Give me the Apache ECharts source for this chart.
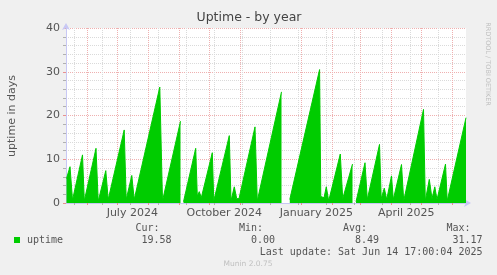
<!DOCTYPE html>
<html><head><meta charset="utf-8">
<script src="https://cdn.jsdelivr.net/npm/echarts@6/dist/echarts.min.js"></script>
<style>html,body{margin:0;padding:0;background:#f0f0f0}#c{width:497px;height:275px}</style>
</head><body><div id="c"></div>
<script>
// ---- data ----
const rangeStart = '2024-05-10 17:00';
const rangeEnd = '2025-06-14 17:00';
const times = [
 '2024-05-11 05:00','2024-05-14 17:00','2024-05-17 05:00','2024-05-27 05:00','2024-05-29 00:00',
 '2024-06-09 17:00','2024-06-11 22:00','2024-06-19 12:00','2024-06-21 22:00','2024-07-07 22:00',
 '2024-07-09 22:00','2024-07-15 12:00','2024-07-17 22:00','2024-08-12 12:00','2024-08-15 05:00',
 '2024-09-02 05:00','2024-09-03 17:00','2024-09-05 05:00','2024-09-17 10:00','2024-09-19 00:00',
 '2024-09-21 00:00','2024-09-23 00:00','2024-10-04 00:00','2024-10-05 12:00','2024-10-21 00:00',
 '2024-10-22 17:00','2024-10-26 00:00','2024-10-28 10:00','2024-10-30 17:00','2024-11-15 17:00',
 '2024-11-18 00:00','2024-12-12 05:00','2024-12-15 17:00','2024-12-20 12:00','2025-01-19 07:00',
 '2025-01-20 12:00','2025-01-23 17:00','2025-01-26 00:00','2025-01-28 10:00','2025-02-09 00:00',
 '2025-02-11 10:00','2025-02-21 05:00','2025-02-23 05:00','2025-02-24 17:00','2025-03-05 17:00',
 '2025-03-08 00:00','2025-03-20 05:00','2025-03-21 22:00','2025-03-25 00:00','2025-03-27 10:00',
 '2025-04-01 05:00','2025-04-03 00:00','2025-04-11 05:00','2025-04-13 10:00','2025-05-03 05:00',
 '2025-05-05 00:00','2025-05-09 00:00','2025-05-11 17:00','2025-05-14 12:00','2025-05-16 17:00',
 '2025-05-25 05:00','2025-05-26 22:00','2025-06-14 17:00'
];
const uptime = [
 5.6, 8.3, 0.7, 11.0, 0.5,
 12.5, 0.4, 7.4, 0.8, 16.7,
 0.8, 6.3, 0.8, 26.5, 0.5,
 18.7, null, 0.3, 12.5, 1.6,
 2.6, 1.2, 11.5, 0.5, 15.4,
 0.5, 3.7, 1.0, 1.0, 17.4,
 0.5, 25.4, null, 0.8, 30.5,
 1.5, 1.2, 3.7, 0.5, 11.2,
 1.0, 8.9, null, 0.3, 9.2,
 0.8, 13.4, 1.0, 3.4, 0.8,
 6.2, 0.8, 8.8, 0.5, 21.4,
 0.5, 5.4, 1.0, 3.7, 0.8,
 8.9, 0.5, 19.5
];
const monthStarts = ['2024-06-01','2024-07-01','2024-08-01','2024-09-01','2024-10-01','2024-11-01','2024-12-01',
 '2025-01-01','2025-02-01','2025-03-01','2025-04-01','2025-05-01','2025-06-01'];
const minorGridDates = ['2024-05-19','2024-06-16','2024-07-14','2024-08-11','2024-09-08','2024-10-06','2024-11-03',
 '2024-12-01','2024-12-29','2025-01-26','2025-02-23','2025-03-23','2025-04-20','2025-05-18'];
const xLabelDates = ['2024-07-16','2024-10-16','2025-01-16','2025-04-16'];
const xLabelTexts = ['July 2024','October 2024','January 2025','April 2025'];
const yTicks = [0, 10, 20, 30, 40];
const seriesName = 'uptime';
const statLabels = ['Cur:','Min:','Avg:','Max:'];
const statValues = ['19.58','0.00','8.49','31.17'];
const lastUpdate = 'Last update: Sat Jun 14 17:00:04 2025';

// ---- helpers ----
function ts(s){const [d,t='00:00']=s.split(' ');const [Y,M,D]=d.split('-').map(Number);const [h,m]=t.split(':').map(Number);return new Date(Y,M-1,D,h,m).getTime();}
const labelMap = {}; xLabelDates.forEach((d,i)=>{labelMap[ts(d)] = xLabelTexts[i];});
const data = times.map((t,i)=>[ts(t), uptime[i]===null ? '-' : uptime[i]]);

const GREEN = '#00cc00', AXIS = '#c8c8f4', MAJ = '#efb0b0', MIN = '#dadada', TXT = '#555';
const chart = echarts.init(document.getElementById('c'), null, {renderer:'canvas'});
const mono = 'DejaVu Sans Mono';
const graphics = [
 {type:'text', x:249, y:18, style:{text:'Uptime - by year', font:'12.5px "DejaVu Sans"', fill:'#444', textAlign:'center', textVerticalAlign:'middle'}},
 {type:'text', x:12, y:116, rotation:Math.PI/2, style:{text:'uptime in days', font:'11px "DejaVu Sans"', fill:TXT, textAlign:'center', textVerticalAlign:'middle'}},
 {type:'text', x:488, y:64, rotation:-Math.PI/2, style:{text:'RRDTOOL / TOBI OETIKER', font:'6.5px "DejaVu Sans"', fill:'#c0c0c0', textAlign:'center', textVerticalAlign:'middle'}},
 {type:'rect', shape:{x:14, y:237, width:6, height:6}, style:{fill:GREEN}},
 {type:'text', x:27, y:240, style:{text:seriesName, font:'10px "'+mono+'"', fill:TXT, textAlign:'left', textVerticalAlign:'middle'}},
 {type:'text', x:482.5, y:252, style:{text:lastUpdate, font:'10px "'+mono+'"', fill:TXT, textAlign:'right', textVerticalAlign:'middle'}},
 {type:'text', x:248, y:264, style:{text:'Munin 2.0.75', font:'7.5px "DejaVu Sans"', fill:'#c0c0c0', textAlign:'center', textVerticalAlign:'middle'}}
];
const statLabelX = [159.5, 263, 367, 470.5];
const statValueX = [171.5, 275, 379, 482.5];
statLabels.forEach((s,i)=>{
 graphics.push({type:'text', x:statLabelX[i], y:228, style:{text:s, font:'10px "'+mono+'"', fill:TXT, textAlign:'right', textVerticalAlign:'middle'}});
 graphics.push({type:'text', x:statValueX[i], y:240, style:{text:statValues[i], font:'10px "'+mono+'"', fill:TXT, textAlign:'right', textVerticalAlign:'middle'}});
});

chart.setOption({
 animation:false,
 backgroundColor:'#f0f0f0',
 grid:{left:66, top:28, width:400, height:175, show:true, backgroundColor:'#ffffff', borderWidth:0, containLabel:false},
 xAxis:[{
   type:'value', min:ts(rangeStart), max:ts(rangeEnd), scale:true,
   axisLine:{show:true, onZero:false, lineStyle:{color:AXIS, width:1}, symbol:['none','arrow'], symbolSize:[6,7], symbolOffset:[0,5]},
   axisTick:{show:true, customValues:monthStarts.map(ts), length:2, lineStyle:{color:'#e89090'}},
   axisLabel:{show:true, customValues:xLabelDates.map(ts), formatter:(v)=>labelMap[v]||'', color:TXT, fontFamily:'DejaVu Sans', fontSize:11, margin:5, hideOverlap:false},
   splitLine:{show:true, lineStyle:{color:MAJ, type:[1,1], width:1}}
 },{
   type:'value', min:ts(rangeStart), max:ts(rangeEnd), scale:true, position:'bottom',
   axisLine:{show:false, onZero:false},
   axisTick:{show:true, customValues:minorGridDates.map(ts), length:2, lineStyle:{color:'#b0b0b0'}},
   axisLabel:{show:false},
   splitLine:{show:true, lineStyle:{color:MIN, type:[1,1], width:1}}
 }],
 yAxis:{
   type:'value', min:yTicks[0], max:yTicks[yTicks.length-1], interval:10,
   axisLine:{show:true, lineStyle:{color:AXIS, width:1}, symbol:['none','arrow'], symbolSize:[6,7], symbolOffset:[0,5]},
   axisTick:{show:true, length:3, lineStyle:{color:'#e89090'}},
   minorTick:{show:true, splitNumber:5, length:3, lineStyle:{color:'#b0b0b0'}},
   axisLabel:{color:TXT, fontFamily:'DejaVu Sans', fontSize:11, margin:6},
   splitLine:{show:true, lineStyle:{color:MAJ, type:[1,1]}},
   minorSplitLine:{show:true, lineStyle:{color:MIN, type:[1,1]}}
 },
 series:[{
   name:seriesName, type:'line', xAxisIndex:0, data:data, showSymbol:false, symbol:'none',
   connectNulls:false, z:3,
   lineStyle:{color:GREEN, width:1},
   areaStyle:{color:GREEN, opacity:1}
 }],
 graphic:graphics
});
</script>
</body></html>
